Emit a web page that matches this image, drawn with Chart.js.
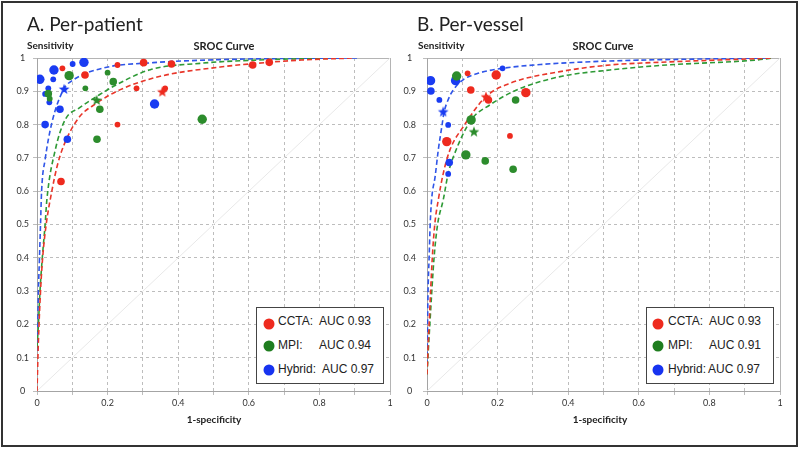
<!DOCTYPE html>
<html>
<head>
<meta charset="utf-8">
<script src="https://cdn.jsdelivr.net/npm/chart.js@4.4.0/dist/chart.umd.min.js"></script>
<style>
  html, body { margin: 0; padding: 0; background: #fff; }
  #wrap { position: relative; width: 800px; height: 449px; overflow: hidden; font-family: Lato, 'Open Sans', sans-serif; color: #222; }
  #frame { position: absolute; left: 1px; top: 1px; width: 797px; height: 446px; box-sizing: border-box; border: 2px solid #333; pointer-events: none; }
  canvas { position: absolute; top: 0; }
  .t { position: absolute; white-space: nowrap; line-height: 1; transform: translateY(-50%); }
  .c { transform: translate(-50%, -50%); }
  .ptitle { font-size: 19px; }
  .lab { font-weight: bold; font-size: 10px; }
  .head { font-weight: bold; font-size: 11px; }
  .legend { position: absolute; top: 307px; width: 128px; height: 77px; border: 1px solid #444; background: #fff; box-sizing: border-box; font-family: 'Liberation Sans', Arial, sans-serif; font-size: 12px; color: #222; }
  .legend span { position: absolute; white-space: nowrap; line-height: 1; transform: translateY(-50%); }
  .legend i { position: absolute; width: 11px; height: 11px; border-radius: 50%; transform: translate(-50%, -50%); }
</style>
</head>
<body>
<div id="wrap">
  <canvas id="chartA" width="400" height="449" style="left:0"></canvas>
  <canvas id="chartB" width="400" height="449" style="left:400px"></canvas>

  <div class="t ptitle" style="left:27px; top:23px">A. Per-patient</div>
  <div class="t lab" style="left:27px; top:45px">Sensitivity</div>
  <div class="t c head" style="left:224px; top:45px">SROC Curve</div>
  <div class="t c lab" style="left:214px; top:419px">1-specificity</div>

  <div class="t ptitle" style="left:417px; top:23px">B. Per-vessel</div>
  <div class="t lab" style="left:418px; top:45px">Sensitivity</div>
  <div class="t c head" style="left:603px; top:45px">SROC Curve</div>
  <div class="t c lab" style="left:600px; top:419px">1-specificity</div>

  <div class="legend" style="left:256px">
    <i style="left:12px; top:16px; background:#ee2a1e"></i><span style="left:21px; top:13px">CCTA:</span><span style="left:62px; top:13px">AUC 0.93</span>
    <i style="left:12px; top:38px; background:#1f7d1f"></i><span style="left:21px; top:37px">MPI:</span><span style="left:62px; top:37px">AUC 0.94</span>
    <i style="left:12px; top:62px; background:#1733f0"></i><span style="left:21px; top:61px">Hybrid:</span><span style="left:65px; top:61px">AUC 0.97</span>
  </div>
  <div class="legend" style="left:646px">
    <i style="left:11px; top:16px; background:#ee2a1e"></i><span style="left:21px; top:13px">CCTA:</span><span style="left:62px; top:13px">AUC 0.93</span>
    <i style="left:11px; top:38px; background:#1f7d1f"></i><span style="left:21px; top:37px">MPI:</span><span style="left:62px; top:37px">AUC 0.91</span>
    <i style="left:11px; top:62px; background:#1733f0"></i><span style="left:21px; top:61px">Hybrid:</span><span style="left:61px; top:61px">AUC 0.97</span>
  </div>

  <div id="frame"></div>
</div>

<script>
// ---- Panel A: per-patient. x = 1-specificity, y = sensitivity ----
const A_ccta_x = [0.072, 0.136, 0.228, 0.302, 0.381, 0.282, 0.363, 0.228, 0.068, 0.611, 0.658];
const A_ccta_y = [0.969, 0.949, 0.979, 0.986, 0.982, 0.909, 0.909, 0.800, 0.629, 0.979, 0.987];
const A_ccta_w = [1, 2, 1, 2, 2, 1, 1, 1, 2, 2, 2];

const A_mpi_x = [0.091, 0.200, 0.137, 0.216, 0.178, 0.170, 0.032, 0.036, 0.468];
const A_mpi_y = [0.947, 0.956, 0.909, 0.929, 0.846, 0.756, 0.893, 0.878, 0.816];
const A_mpi_w = [3, 1, 1, 2, 2, 2, 2, 1, 3];

const A_hyb_x = [0.008, 0.048, 0.046, 0.101, 0.133, 0.032, 0.023, 0.035, 0.065, 0.023, 0.086, 0.333];
const A_hyb_y = [0.936, 0.964, 0.936, 0.982, 0.987, 0.909, 0.892, 0.867, 0.846, 0.800, 0.756, 0.862];
const A_hyb_w = [3, 3, 1, 1, 3, 1, 1, 1, 2, 2, 2, 3];

// summary points (stars): CCTA, MPI, Hybrid
const A_sum_x = [0.355, 0.169, 0.077];
const A_sum_y = [0.899, 0.874, 0.907];

// SROC curves
const A_ccta_cx = [0, 0.004, 0.010, 0.016, 0.026, 0.042, 0.057, 0.075, 0.118, 0.170, 0.236, 0.349, 0.519, 0.612, 0.750, 0.895];
const A_ccta_cy = [0, 0.15, 0.30, 0.40, 0.50, 0.60, 0.675, 0.735, 0.82, 0.865, 0.905, 0.945, 0.973, 0.983, 0.994, 1.0];
const A_mpi_cx = [0, 0.004, 0.0085, 0.015, 0.023, 0.028, 0.052, 0.080, 0.120, 0.170, 0.217, 0.321, 0.462, 0.652, 0.860];
const A_mpi_cy = [0.13, 0.20, 0.30, 0.40, 0.50, 0.575, 0.725, 0.815, 0.85, 0.885, 0.915, 0.965, 0.984, 0.995, 1.0];
const A_hyb_cx = [0, 0.002, 0.004, 0.007, 0.010, 0.013, 0.023, 0.042, 0.075, 0.104, 0.188, 0.329, 0.519, 0.745, 0.907];
const A_hyb_cy = [0.12, 0.20, 0.30, 0.40, 0.50, 0.60, 0.695, 0.805, 0.905, 0.935, 0.970, 0.986, 0.995, 0.999, 1.0];

// ---- Panel B: per-vessel ----
const B_ccta_x = [0.115, 0.196, 0.124, 0.280, 0.174, 0.235, 0.056];
const B_ccta_y = [0.954, 0.949, 0.904, 0.896, 0.874, 0.766, 0.749];
const B_ccta_w = [1, 3, 2, 3, 2, 1, 3];

const B_mpi_x = [0.084, 0.125, 0.110, 0.165, 0.244, 0.251];
const B_mpi_y = [0.946, 0.814, 0.709, 0.691, 0.666, 0.874];
const B_mpi_w = [3, 3, 3, 2, 2, 2];

const B_hyb_x = [0.010, 0.011, 0.035, 0.081, 0.214, 0.060, 0.063, 0.060];
const B_hyb_y = [0.932, 0.901, 0.874, 0.932, 0.969, 0.799, 0.686, 0.652];
const B_hyb_w = [3, 2, 1, 3, 1, 1, 2, 1];

const B_sum_x = [0.167, 0.133, 0.046];
const B_sum_y = [0.884, 0.779, 0.839];

const B_ccta_cx = [0, 0.006, 0.015, 0.022, 0.032, 0.046, 0.065, 0.103, 0.167, 0.235, 0.377, 0.518, 0.679, 0.934, 0.980];
const B_ccta_cy = [0.05, 0.20, 0.40, 0.50, 0.574, 0.653, 0.724, 0.794, 0.884, 0.924, 0.959, 0.979, 0.988, 0.998, 1.0];
const B_mpi_cx = [0, 0.008, 0.020, 0.030, 0.046, 0.060, 0.075, 0.125, 0.178, 0.254, 0.377, 0.518, 0.679, 0.934, 0.980];
const B_mpi_cy = [0.05, 0.20, 0.40, 0.50, 0.574, 0.653, 0.704, 0.814, 0.859, 0.904, 0.944, 0.964, 0.979, 0.994, 1.0];
const B_hyb_cx = [0, 0.003, 0.006, 0.009, 0.013, 0.023, 0.032, 0.042, 0.048, 0.060, 0.075, 0.103, 0.141, 0.214, 0.329, 0.518, 0.773, 0.966];
const B_hyb_cy = [0.08, 0.30, 0.40, 0.50, 0.574, 0.644, 0.724, 0.794, 0.835, 0.875, 0.905, 0.935, 0.953, 0.969, 0.981, 0.991, 0.997, 1.0];

const RED = '#ee2a1e', GREEN = '#2c8c2c', BLUE = '#1a3cf2';
const RED_L = '#e8362a', GREEN_L = '#2e9a36', BLUE_L = '#2f55e8';

function pts(xs, ys) {
  return xs.map((x, i) => ({ x: x, y: ys[i] }));
}

// filled five-point star used as point style
function starImage(color) {
  const c = document.createElement('canvas');
  c.width = 12; c.height = 12;
  const g = c.getContext('2d');
  g.fillStyle = color;
  g.beginPath();
  for (let i = 0; i < 10; i++) {
    const r = i % 2 ? 2.4 : 5.6;
    const a = -Math.PI / 2 + i * Math.PI / 5;
    g.lineTo(6 + r * Math.cos(a), 6.4 + r * Math.sin(a));
  }
  g.closePath();
  g.fill();
  return c;
}
const stars = [starImage(RED), starImage(GREEN), starImage(BLUE)];

function dots(xs, ys, ws, color) {
  return {
    data: pts(xs, ys),
    backgroundColor: color,
    borderColor: color,
    borderWidth: 0,
    pointRadius: (ctx) => 2 + 0.9 * (ws[ctx.dataIndex] || 1),
    order: 1
  };
}

function curve(xs, ys, color) {
  return {
    data: pts(xs, ys),
    showLine: true,
    borderColor: color,
    borderWidth: 1.6,
    borderDash: [5, 3],
    pointRadius: 0,
    cubicInterpolationMode: 'monotone',
    order: 5
  };
}

const plotFrame = {
  id: 'plotFrame',
  beforeDatasetsDraw(chart) {
    const { ctx, chartArea: a } = chart;
    ctx.save();
    ctx.strokeStyle = '#b4b4b4';
    ctx.lineWidth = 1;
    ctx.beginPath();
    ctx.moveTo(Math.round(a.left) + 0.5, Math.round(a.top) + 0.5);
    ctx.lineTo(Math.round(a.right) + 0.5, Math.round(a.top) + 0.5);
    ctx.lineTo(Math.round(a.right) + 0.5, Math.round(a.bottom) + 0.5);
    ctx.stroke();
    ctx.restore();
  }
};

function makeChart(id, sets, sumX, sumY, pad, yWidth, yPad) {
  const datasets = [
    {
      data: pts(sumX, sumY),
      pointStyle: stars,
      pointRadius: 6,
      order: 0
    },
    dots(sets[0][0], sets[0][1], sets[0][2], RED),
    dots(sets[1][0], sets[1][1], sets[1][2], GREEN),
    dots(sets[2][0], sets[2][1], sets[2][2], BLUE),
    curve(sets[0][3], sets[0][4], RED_L),
    curve(sets[1][3], sets[1][4], GREEN_L),
    curve(sets[2][3], sets[2][4], BLUE_L),
    {
      data: [{ x: 0, y: 0 }, { x: 1, y: 1 }],
      showLine: true,
      borderColor: '#e8e8e8',
      borderWidth: 1,
      pointRadius: 0,
      order: 10
    }
  ];

  return new Chart(document.getElementById(id), {
    type: 'scatter',
    data: { datasets: datasets },
    plugins: [plotFrame],
    options: {
      responsive: false,
      animation: false,
      layout: { padding: pad },
      plugins: {
        legend: { display: false },
        tooltip: { enabled: false }
      },
      scales: {
        x: {
          min: 0,
          max: 1,
          afterFit: (s) => { s.height = 20; },
          ticks: {
            stepSize: 0.1,
            maxRotation: 0,
            autoSkip: false,
            padding: 3,
            color: '#333',
            font: { family: 'Lato', size: 9 },
            callback: (v) => {
              const r = Math.round(v * 10);
              return r % 2 ? '' : String(r / 10);
            }
          },
          grid: { color: '#bdbdbd', lineWidth: 1, tickLength: 4 },
          border: { color: '#a4a4a4', dash: [3, 3] }
        },
        y: {
          min: 0,
          max: 1,
          afterFit: (s) => { s.width = yWidth; },
          ticks: {
            stepSize: 0.1,
            autoSkip: false,
            crossAlign: 'center',
            padding: yPad,
            color: '#333',
            font: { family: 'Lato', size: 9 },
            callback: (v) => String(Math.round(v * 10) / 10)
          },
          grid: { color: '#bdbdbd', lineWidth: 1, tickLength: 4 },
          border: { color: '#a4a4a4', dash: [3, 3] }
        }
      }
    }
  });
}

makeChart('chartA', [
  [A_ccta_x, A_ccta_y, A_ccta_w, A_ccta_cx, A_ccta_cy],
  [A_mpi_x, A_mpi_y, A_mpi_w, A_mpi_cx, A_mpi_cy],
  [A_hyb_x, A_hyb_y, A_hyb_w, A_hyb_cx, A_hyb_cy]
], A_sum_x, A_sum_y, { left: 7, right: 10, top: 58, bottom: 38 }, 30, 4);

makeChart('chartB', [
  [B_ccta_x, B_ccta_y, B_ccta_w, B_ccta_cx, B_ccta_cy],
  [B_mpi_x, B_mpi_y, B_mpi_w, B_mpi_cx, B_mpi_cy],
  [B_hyb_x, B_hyb_y, B_hyb_w, B_hyb_cx, B_hyb_cy]
], B_sum_x, B_sum_y, { left: 1, right: 20, top: 58, bottom: 38 }, 26, 7);
</script>
</body>
</html>
